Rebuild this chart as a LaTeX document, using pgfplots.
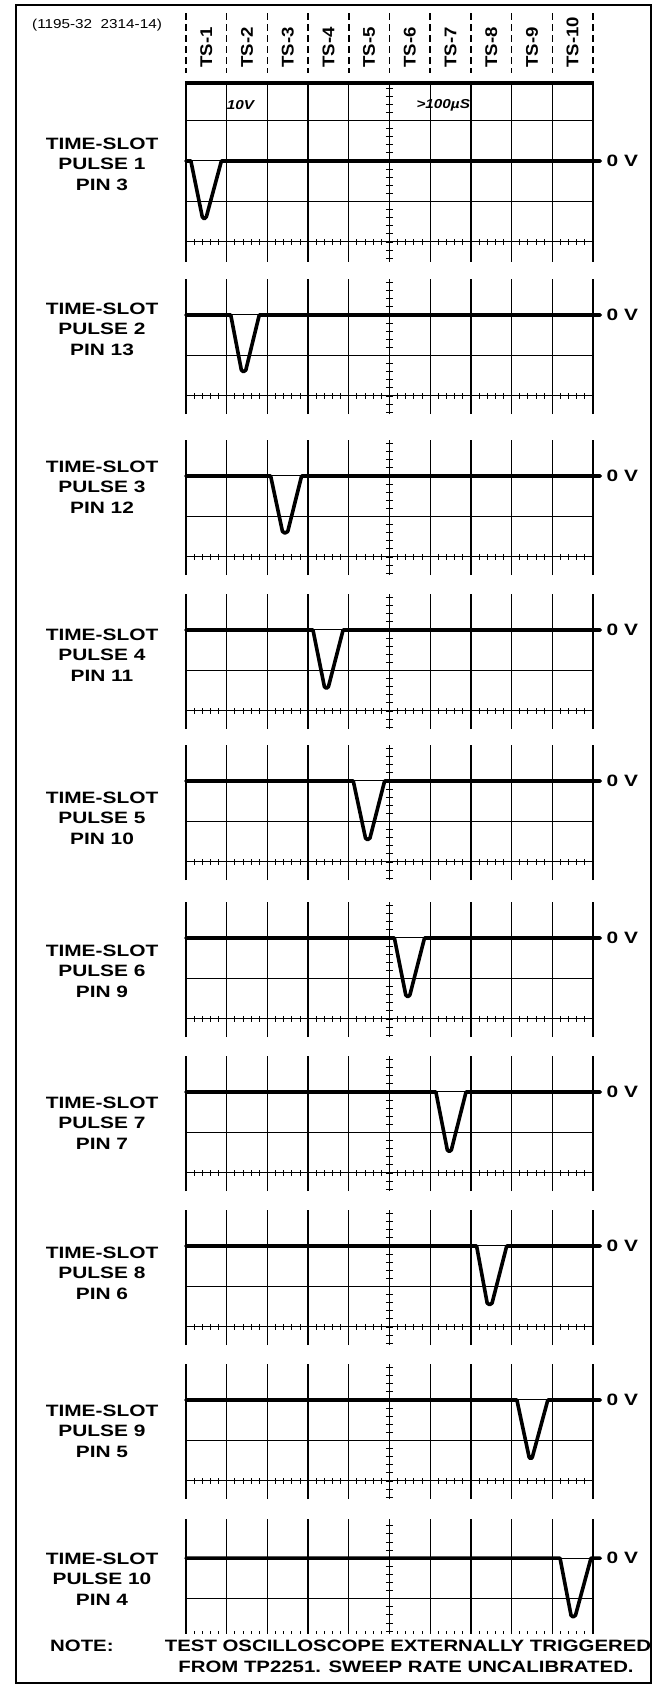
\documentclass[border=0pt]{standalone}
\usepackage{pgfplots}
\pgfplotsset{compat=1.18}
\usepackage{fontspec}
\setmainfont{Liberation Sans}
\newfontfamily\lab{Liberation Sans}[FakeStretch=1.27]
\newfontfamily\labn{Liberation Sans}[FakeStretch=1.18]
\newfontfamily\labm{Liberation Sans}[FakeStretch=1.24]
\newfontfamily\labt{Liberation Sans}[FakeStretch=1.1]
\newcommand\labfont{\lab\bfseries\fontsize{16.5}{20.5}\selectfont}
\newcommand\notefont{\labm\bfseries\fontsize{16.5}{20.5}\selectfont}
\newcommand\tsfont{\labt\bfseries\fontsize{17}{19}\selectfont}
\newcommand\hdrfont{\labn\fontsize{13}{15}\selectfont}
\newcommand\itfont{\labn\bfseries\itshape\fontsize{13}{15}\selectfont}

\tikzset{
  gv/.style={line width=1.3bp},
  gh/.style={line width=1.0bp},
  edge/.style={line width=2.6bp},
  tk/.style={line width=0.9bp},
  lbl/.style={align=center, inner sep=0, font=\labfont},
}
\pgfplotsset{
  panel/.style={hide axis, clip=false, x=40.7bp, y=40.5bp, xmin=0, xmax=10, anchor=south west},
  trace/.style={line width=3.6bp, black, line join=round, line cap=round, mark=none},
}
% #1 ymin, #2 ymax, #3 list of centre-line tick positions
\newcommand\graticule[3]{%
  \pgfplotsinvokeforeach{1,2,3,4,6,7,8,9}{\draw[gv] (axis cs:##1,#1)--(axis cs:##1,#2);}
  \draw[line width=1.5bp] (axis cs:5,#1)--(axis cs:5,#2);
  \draw[edge] (axis cs:0,#1)--(axis cs:0,#2);
  \draw[edge] (axis cs:10,#1)--(axis cs:10,#2);
  \pgfplotsinvokeforeach{-1,0}{\draw[gh] (axis cs:0,##1)--(axis cs:10,##1);}
  \pgfplotsinvokeforeach{#3}{\draw[tk] (axis cs:4.91,##1)--(axis cs:5.09,##1);}
}
\newcommand\tickrow{%
  \draw[gh] (axis cs:0,-2)--(axis cs:10,-2);
  \pgfplotsinvokeforeach{0.2,0.4,...,9.9}{\draw[tk] (axis cs:##1,-2.07)--(axis cs:##1,-1.93);}
}
\newcommand\zerolabel{\node[anchor=west, inner sep=0, font=\labfont] at (axis cs:10.33,0) {0 V};}

\begin{document}
\begin{tikzpicture}
\useasboundingbox (0,0) rectangle (659bp,-1686bp);
\fill[white] (0,0) rectangle (659bp,-1686bp);
\draw[line width=2.2bp] (16bp,-5bp) rectangle (651bp,-1683bp);

% header
\node[anchor=west, inner sep=0, font=\hdrfont] at (32bp,-25bp) {(1195-32\ \ 2314-14)};
\foreach \k in {0,...,10}
  \draw[line width=1.5bp, dash pattern=on 7bp off 4bp] ({186bp+40.7bp*\k},-13bp)--({186bp+40.7bp*\k},-73bp);
\foreach \k in {1,...,10}
  \node[rotate=90, anchor=west, inner sep=0, font=\tsfont] at ({186bp+40.7bp*(\k-0.5)},-68bp) {TS-\k};

% left labels
\node[lbl] at (102bp,-164bp) {TIME-SLOT\\PULSE 1\\PIN 3};
\node[lbl] at (102bp,-329bp) {TIME-SLOT\\PULSE 2\\PIN 13};
\node[lbl] at (102bp,-487bp) {TIME-SLOT\\PULSE 3\\PIN 12};
\node[lbl] at (102bp,-655bp) {TIME-SLOT\\PULSE 4\\PIN 11};
\node[lbl] at (102bp,-818bp) {TIME-SLOT\\PULSE 5\\PIN 10};
\node[lbl] at (102bp,-971bp) {TIME-SLOT\\PULSE 6\\PIN 9};
\node[lbl] at (102bp,-1123bp) {TIME-SLOT\\PULSE 7\\PIN 7};
\node[lbl] at (102bp,-1273bp) {TIME-SLOT\\PULSE 8\\PIN 6};
\node[lbl] at (102bp,-1431bp) {TIME-SLOT\\PULSE 9\\PIN 5};
\node[lbl] at (102bp,-1579bp) {TIME-SLOT\\PULSE 10\\PIN 4};

% note
\node[anchor=west, inner sep=0, font=\notefont] at (50bp,-1646bp) {NOTE:};
\node[inner sep=0, font=\notefont] at (408bp,-1646bp) {TEST OSCILLOSCOPE EXTERNALLY TRIGGERED};
\node[inner sep=0, font=\notefont] at (406bp,-1667bp) {FROM TP2251. SWEEP RATE UNCALIBRATED.};

% panel 1
\begin{axis}[panel, at={(186bp,-261.8bp)}, ymin=-2.49, ymax=1.93]
\graticule{-2.49}{1.93}{-2.4,-2.2,...,1.8}
\draw[gh] (axis cs:0,1)--(axis cs:10,1);
\draw[line width=3.5bp] (axis cs:-0.03,1.93)--(axis cs:10.03,1.93);
\tickrow
\node[anchor=west, inner sep=0, font=\itfont] at (axis cs:1.0,1.38) {10V};
\node[anchor=west, inner sep=0, font=\itfont] at (axis cs:5.66,1.38) {>100µS};
\addplot[trace] coordinates {(0,0) (0.12,0) (0.40,-1.38) (0.45,-1.43) (0.50,-1.38) (0.87,0) (10.18,0)};
\zerolabel
\end{axis}

% panel 2
\begin{axis}[panel, at={(186bp,-414.2bp)}, ymin=-2.45, ymax=0.88]
\graticule{-2.45}{0.88}{-2.4,-2.2,...,0.8}
\tickrow
\addplot[trace] coordinates {(0,0) (1.10,0) (1.36,-1.36) (1.41,-1.40) (1.47,-1.36) (1.80,0) (10.18,0)};
\zerolabel
\end{axis}

% panel 3
\begin{axis}[panel, at={(186bp,-575.2bp)}, ymin=-2.45, ymax=0.88]
\graticule{-2.45}{0.88}{-2.4,-2.2,...,0.8}
\tickrow
\addplot[trace] coordinates {(0,0) (2.08,0) (2.37,-1.37) (2.43,-1.41) (2.50,-1.37) (2.84,0) (10.18,0)};
\zerolabel
\end{axis}

% panel 4
\begin{axis}[panel, at={(186bp,-729.2bp)}, ymin=-2.45, ymax=0.88]
\graticule{-2.45}{0.88}{-2.4,-2.2,...,0.8}
\tickrow
\addplot[trace] coordinates {(0,0) (3.12,0) (3.40,-1.40) (3.45,-1.44) (3.50,-1.40) (3.86,0) (10.18,0)};
\zerolabel
\end{axis}

% panel 5
\begin{axis}[panel, at={(186bp,-880.2bp)}, ymin=-2.45, ymax=0.88]
\graticule{-2.45}{0.88}{-2.4,-2.2,...,0.8}
\tickrow
\addplot[trace] coordinates {(0,0) (4.11,0) (4.41,-1.41) (4.46,-1.45) (4.52,-1.41) (4.88,0) (10.18,0)};
\zerolabel
\end{axis}

% panel 6
\begin{axis}[panel, at={(186bp,-1037.2bp)}, ymin=-2.45, ymax=0.88]
\graticule{-2.45}{0.88}{-2.4,-2.2,...,0.8}
\tickrow
\addplot[trace] coordinates {(0,0) (5.12,0) (5.40,-1.41) (5.45,-1.45) (5.50,-1.41) (5.86,0) (10.18,0)};
\zerolabel
\end{axis}

% panel 7
\begin{axis}[panel, at={(186bp,-1191.2bp)}, ymin=-2.45, ymax=0.88]
\graticule{-2.45}{0.88}{-2.4,-2.2,...,0.8}
\tickrow
\addplot[trace] coordinates {(0,0) (6.14,0) (6.42,-1.43) (6.47,-1.47) (6.52,-1.43) (6.88,0) (10.18,0)};
\zerolabel
\end{axis}

% panel 8
\begin{axis}[panel, at={(186bp,-1345.2bp)}, ymin=-2.45, ymax=0.88]
\graticule{-2.45}{0.88}{-2.4,-2.2,...,0.8}
\tickrow
\addplot[trace] coordinates {(0,0) (7.14,0) (7.40,-1.41) (7.46,-1.45) (7.52,-1.41) (7.88,0) (10.18,0)};
\zerolabel
\end{axis}

% panel 9
\begin{axis}[panel, at={(186bp,-1499.2bp)}, ymin=-2.45, ymax=0.88]
\graticule{-2.45}{0.88}{-2.4,-2.2,...,0.8}
\tickrow
\addplot[trace] coordinates {(0,0) (8.13,0) (8.43,-1.41) (8.47,-1.45) (8.51,-1.41) (8.89,0) (10.18,0)};
\zerolabel
\end{axis}

% panel 10
\begin{axis}[panel, at={(186bp,-1633.9bp)}, ymin=-1.87, ymax=0.96]
\graticule{-1.87}{0.96}{-1.8,-1.6,...,0.8}
\pgfplotsinvokeforeach{0.2,0.4,...,9.9}{\draw[tk] (axis cs:#1,-1.87)--(axis cs:#1,-1.80);}
\addplot[trace] coordinates {(0,0) (9.19,0) (9.46,-1.41) (9.51,-1.45) (9.57,-1.41) (9.95,0) (10.18,0)};
\zerolabel
\end{axis}
\end{tikzpicture}
\end{document}
